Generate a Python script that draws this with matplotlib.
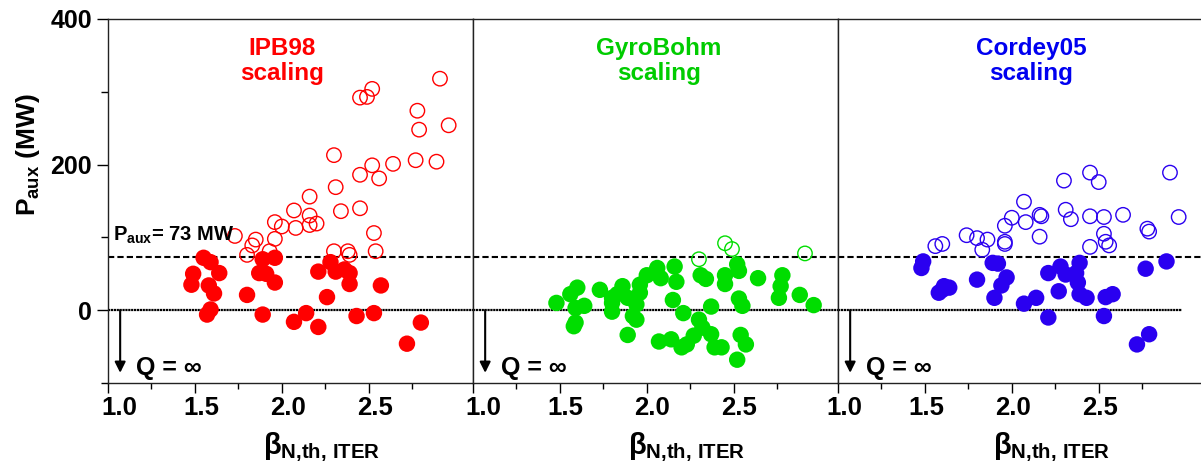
import numpy as np
import matplotlib
matplotlib.use("Agg")
from matplotlib import pyplot as plt
from matplotlib.transforms import ScaledTranslation

#font in grassetto per tutto il grafico
plt.rcParams['font.family'] = ['Liberation Sans', 'DejaVu Sans']
plt.rcParams['font.weight'] = 'bold'
plt.rcParams['mathtext.fontset'] = 'custom'
plt.rcParams['mathtext.rm'] = 'Liberation Sans:bold'
plt.rcParams['mathtext.it'] = 'Liberation Sans:bold'
plt.rcParams['mathtext.bf'] = 'Liberation Sans:bold'

#scaling IPB98: punti vuoti (P_aux > 73 MW) e pieni
ipb_open_x = [2.91, 2.52, 2.45, 2.49, 2.78, 2.79, 2.96, 2.30, 2.52, 2.64, 2.77, 2.89,
              2.45, 2.56, 2.31, 2.16, 2.53, 2.45, 2.34, 2.07, 2.16, 2.16, 2.20, 2.08,
              1.96, 2.00, 1.73, 1.85, 1.96, 1.83, 1.80, 1.93, 2.54, 2.30, 2.38, 2.39]
ipb_open_y = [318, 304, 292, 293, 274, 248, 254, 213, 199, 201, 206, 204,
              186, 181, 169, 156, 106, 140, 136, 137, 130, 117, 119, 113,
              121, 115, 102, 97, 98, 89, 76, 81, 81, 81, 81, 76]
ipb_fill_x = [1.49, 1.48, 1.55, 1.59, 1.64, 1.58, 1.61, 1.59, 1.57, 1.80, 1.87, 1.91,
              1.89, 1.96, 1.96, 1.89, 2.07, 2.14, 2.21, 2.21, 2.26, 2.28, 2.31, 2.36,
              2.39, 2.39, 2.43, 2.53, 2.57, 2.72, 2.80]
ipb_fill_y = [50, 35, 72, 66, 51, 34, 23, 1, -6, 21, 51, 50,
              70, 72, 38, -6, -16, -4, -23, 53, 18, 66, 53, 56,
              51, 36, -8, -4, 34, -46, -17]

#scaling GyroBohm
gb_open_x = [2.30, 2.45, 2.49, 2.91]
gb_open_y = [70, 92, 84, 78]
gb_fill_x = [1.48, 1.56, 1.60, 1.59, 1.64, 1.59, 1.58, 1.73, 1.80, 1.80, 1.83, 1.86,
             1.80, 1.89, 1.94, 1.96, 1.96, 2.00, 2.06, 2.08, 1.94, 1.92, 1.89, 2.16,
             2.17, 2.15, 2.21, 2.30, 2.32, 2.27, 2.37, 2.07, 2.14, 2.20, 2.23, 2.39,
             2.43, 2.37, 2.31, 2.34, 2.45, 2.45, 2.52, 2.53, 2.53, 2.55, 2.54, 2.57,
             2.52, 2.64, 2.78, 2.77, 2.76, 2.88, 2.96]
gb_fill_y = [10, 22, 31, 3, 6, -17, -22, 28, 17, 10, 22, 33,
             -2, 17, 8, 24, 35, 48, 58, 44, -13, -8, -34, 60,
             39, 14, -4, -13, -24, -35, -33, -43, -40, -51, -47, -51,
             -51, 5, 48, 43, 48, 36, 63, 54, 16, 6, -34, -47,
             -68, 44, 48, 33, 17, 21, 7]

#scaling Cordey05
cd_open_x = [2.91, 2.30, 2.45, 2.50, 2.07, 2.00, 1.96, 2.08, 2.16, 2.17, 2.16, 2.31,
             2.34, 2.45, 2.53, 2.64, 2.53, 2.54, 2.56, 2.45, 2.78, 2.79, 2.96, 1.96,
             1.96, 1.86, 1.80, 1.74, 1.83, 1.56, 1.60]
cd_open_y = [189, 178, 189, 176, 149, 127, 116, 121, 131, 129, 101, 138,
             125, 129, 128, 131, 105, 94, 89, 87, 112, 108, 128, 94,
             91, 97, 99, 103, 83, 88, 91]
cd_fill_x = [1.49, 1.48, 1.61, 1.64, 1.58, 1.60, 1.80, 1.89, 1.92, 1.97, 1.94, 1.90,
             2.07, 2.14, 2.21, 2.21, 2.28, 2.31, 2.39, 2.37, 2.38, 2.27, 2.39, 2.43,
             2.54, 2.58, 2.53, 2.77, 2.89, 2.79, 2.72]
cd_fill_y = [67, 58, 33, 31, 24, 28, 42, 65, 64, 45, 34, 17,
             9, 17, -10, 51, 60, 49, 65, 51, 38, 26, 22, 17,
             18, 22, -8, 57, 67, -33, -47]

titoli = ["IPB98\nscaling", "GyroBohm\nscaling", "Cordey05\nscaling"]
colori_titoli = ["#FF0000", "#00CC00", "#0000F0"]
colori_punti = ["#FF0000", "#00DD00", "#2A00F0"]
titoli_x = [0.477, 0.51, 0.53]
fine_zero = [3.1, 3.1, 2.98]
#piccolo spostamento orizzontale delle etichette dell'asse x (pixel)
sposta_tick = [6, 5, 1]
dati = [(ipb_open_x, ipb_open_y, ipb_fill_x, ipb_fill_y),
        (gb_open_x, gb_open_y, gb_fill_x, gb_fill_y),
        (cd_open_x, cd_open_y, cd_fill_x, cd_fill_y)]

fig = plt.figure(figsize=(12.01, 4.71), dpi=100)
W, H = 1201, 471
assi = [fig.add_axes([(108 + i * 365) / W, 88 / H, 365 / W, 364 / H]) for i in range(3)]

for i, ax in enumerate(assi):
    ox, oy, fx, fy = dati[i]
    #linea tratteggiata a 73 MW e linea dello zero
    ax.axhline(73, color='black', lw=1.5, ls=(0, (3, 1.5)), zorder=1)
    ax.hlines(0, 1.0, fine_zero[i], color='black', lw=1.6, ls=(0, (1, 0.3)), zorder=1)
    #punti vuoti e pieni
    ax.scatter(ox, oy, s=108, facecolors='none', edgecolors=colori_punti[i], linewidths=1.0, zorder=2)
    ax.scatter(fx, fy, s=140, color=colori_punti[i], edgecolors='none', zorder=3)
    #freccia verso Q = infinito
    ax.annotate('', xy=(1.07, -86), xytext=(1.07, 0),
                arrowprops=dict(arrowstyle='-|>', color='black', lw=1.5,
                                mutation_scale=16, shrinkA=0, shrinkB=0))
    ax.text(1.16, -79, 'Q = \u221e', fontsize=18, va='center', ha='left')
    ax.text(titoli_x[i], 0.95, titoli[i], transform=ax.transAxes, ha='center', va='top',
            color=colori_titoli[i], fontsize=17.5, linespacing=1.1)
    ax.text(0.425, -0.195, r'$\beta_{N{,}th{,}\ ITER}$', transform=ax.transAxes,
            fontsize=21, ha='left', va='baseline')

    ax.set_xlim(1.0, 3.1)
    ax.set_ylim(-100, 400)
    ax.set_xticks([1.0, 1.5, 2.0, 2.5])
    ax.set_xticks([1.25, 1.75, 2.25, 2.75], minor=True)
    ax.set_xticklabels(['1.0', '1.5', '2.0', '2.5'], fontsize=18.5)
    ax.tick_params(axis='x', which='major', direction='out', length=7, width=1, pad=2.5)
    ax.tick_params(axis='x', which='minor', direction='out', length=4, width=1)
    for k, lab in enumerate(ax.get_xticklabels()):
        dx = sposta_tick[i] + (5 if k == 0 else 0)
        lab.set_transform(lab.get_transform() + ScaledTranslation(dx / 100, 0, fig.dpi_scale_trans))
    for s in ax.spines.values():
        s.set_linewidth(1.0)
        s.set_color('#222222')
    if i == 0:
        ax.set_yticks([0, 200, 400])
        ax.set_yticks([-100, 100, 300], minor=True)
        ax.set_yticklabels(['0', '200', '400'], fontsize=18)
        ax.tick_params(axis='y', which='major', direction='out', length=8, width=1, pad=3.5)
        ax.tick_params(axis='y', which='minor', direction='out', length=5, width=1)
    else:
        ax.set_yticks([])
        ax.set_yticks([], minor=True)

assi[0].text(1.03, 103, r'$P_{aux}$= 73 MW', fontsize=14.5, va='center', ha='left')
fig.text(28 / W, 1 - 155 / H, r'$P_{aux}$ (MW)', rotation=90, ha='center', va='center', fontsize=19)

fig.savefig('out.png', dpi=100)
